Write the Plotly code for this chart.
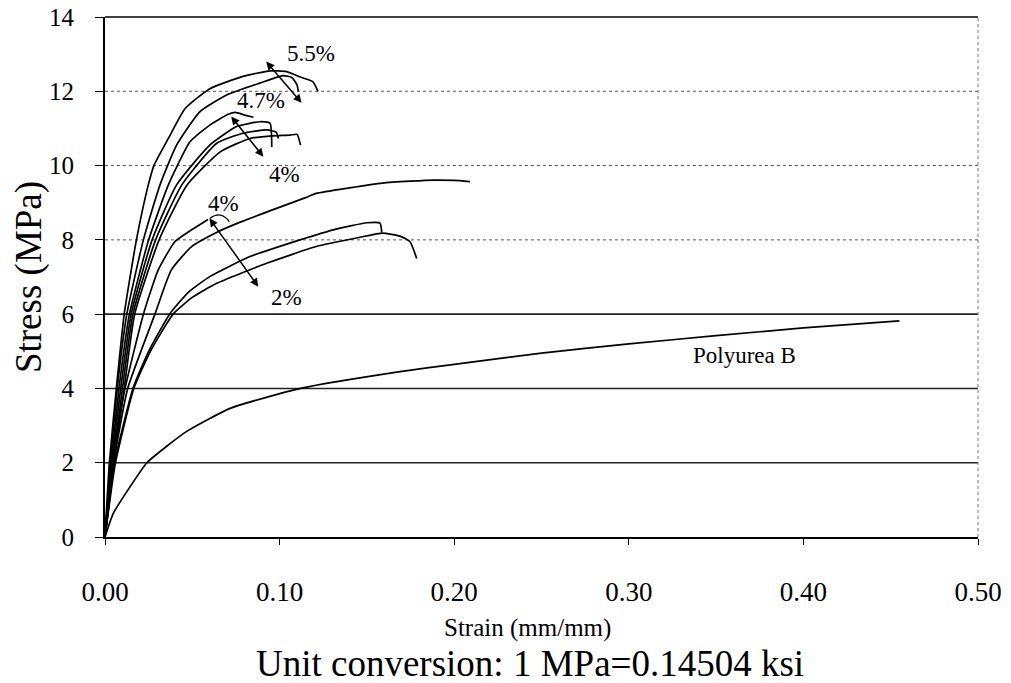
import plotly.graph_objects as go

# ---- data (strain mm/mm, stress MPa) ----
A_x = [0, 0.0025, 0.0065, 0.011, 0.018, 0.0248, 0.028, 0.0363, 0.0458, 0.060, 0.079, 0.0945, 0.104, 0.1126, 0.119, 0.122]
A_y = [0, 2, 4, 6, 8, 9.48, 10, 10.73, 11.53, 12.07, 12.4, 12.55, 12.53, 12.37, 12.26, 12.0]

B_x = [0, 0.003, 0.007, 0.0125, 0.022, 0.0315, 0.041, 0.0544, 0.0697, 0.0888, 0.102, 0.107, 0.110, 0.1107]
B_y = [0, 2, 4, 6, 8, 9.48, 10.55, 11.45, 11.9, 12.22, 12.42, 12.37, 12.17, 12.0]

C_x = [0, 0.0035, 0.008, 0.014, 0.025, 0.0363, 0.0487, 0.060, 0.0706, 0.0745, 0.080, 0.085]
C_y = [0, 2, 4, 6, 8, 9.48, 10.64, 11.09, 11.38, 11.43, 11.36, 11.3]

D_x = [0, 0.004, 0.009, 0.015, 0.027, 0.041, 0.060, 0.0754, 0.0888, 0.0945, 0.0955]
D_y = [0, 2, 4, 6, 8, 9.48, 10.55, 11.05, 11.18, 11.14, 10.5]

E_x = [0, 0.0045, 0.010, 0.016, 0.029, 0.044, 0.064, 0.079, 0.0926, 0.098, 0.0993]
E_y = [0, 2, 4, 6, 8, 9.48, 10.6, 10.87, 10.96, 10.9, 10.73]

F_x = [0, 0.005, 0.011, 0.017, 0.031, 0.047, 0.066, 0.083, 0.096, 0.106, 0.110, 0.112]
F_y = [0, 2, 4, 6, 8, 9.48, 10.37, 10.73, 10.8, 10.82, 10.84, 10.55]

G_x = [0, 0.004, 0.0115, 0.022, 0.0305, 0.040, 0.0496, 0.059]
G_y = [0, 2, 4, 6, 7.19, 7.95, 8.27, 8.55]

H_x = [0, 0.005, 0.013, 0.0286, 0.038, 0.0496, 0.063, 0.076, 0.0955, 0.1145, 0.121, 0.14, 0.159, 0.175, 0.188, 0.2, 0.209]
H_y = [0, 2, 4, 6, 7.19, 7.82, 8.18, 8.45, 8.8, 9.13, 9.25, 9.4, 9.53, 9.58, 9.61, 9.6, 9.57]

I_x = [0, 0.0055, 0.016, 0.025, 0.037, 0.048, 0.060, 0.083, 0.1117, 0.1307, 0.150, 0.1575, 0.1585]
I_y = [0, 2, 4, 5, 6, 6.6, 7.01, 7.55, 8.0, 8.27, 8.46, 8.45, 8.2]

J_x = [0, 0.006, 0.0165, 0.026, 0.039, 0.050, 0.064, 0.0926, 0.121, 0.146, 0.159, 0.169, 0.1747, 0.1785]
J_y = [0, 2, 4, 5, 6, 6.45, 6.83, 7.37, 7.82, 8.07, 8.18, 8.1, 7.95, 7.5]

P_x = [0, 0.0048, 0.0143, 0.024, 0.035, 0.047, 0.072, 0.112, 0.169, 0.2, 0.25, 0.3, 0.35, 0.4, 0.455]
P_y = [0, 0.64, 1.35, 2.0, 2.43, 2.85, 3.47, 4.0, 4.45, 4.65, 4.95, 5.2, 5.42, 5.63, 5.82]

curves = [(A_x, A_y), (B_x, B_y), (C_x, C_y), (D_x, D_y), (E_x, E_y), (F_x, F_y),
          (G_x, G_y), (H_x, H_y), (I_x, I_y), (J_x, J_y), (P_x, P_y)]

x_ticks = [0, 0.1, 0.2, 0.3, 0.4, 0.5]
x_labels = ["0.00", "0.10", "0.20", "0.30", "0.40", "0.50"]
y_ticks = [0, 2, 4, 6, 8, 10, 12, 14]
grid_solid = [2, 4, 6]
grid_dot = [8, 10, 12]

FONT = "Liberation Serif, Times New Roman, serif"

fig = go.Figure()
for cx, cy in curves:
    fig.add_trace(go.Scatter(x=cx, y=cy, mode="lines",
                             line=dict(color="black", width=1.7, shape="spline", smoothing=0.5),
                             showlegend=False, hoverinfo="skip"))

shapes = []
for g in grid_solid:
    shapes.append(dict(type="line", xref="paper", x0=0, x1=1, yref="y", y0=g, y1=g,
                       line=dict(color="#222", width=1.6), layer="below"))
for g in grid_dot:
    shapes.append(dict(type="line", xref="paper", x0=0, x1=1, yref="y", y0=g, y1=g,
                       line=dict(color="#555", width=1, dash="dot"), layer="below"))
# top border (solid) and right border (dotted grey)
shapes.append(dict(type="line", xref="paper", yref="paper", x0=0, x1=1, y0=1, y1=1,
                   line=dict(color="black", width=1.5)))
shapes.append(dict(type="line", xref="paper", yref="paper", x0=1, x1=1, y0=0, y1=1,
                   line=dict(color="#777", width=1, dash="dot")))
# small arc near the middle 4% label
shapes.append(dict(type="path", xref="x", yref="y",
                   path="M 0.0601,8.58 Q 0.0665,8.8 0.0712,8.49",
                   line=dict(color="black", width=1.3)))

annotations = []
def label(text, x, y, size=23):
    annotations.append(dict(text=text, x=x, y=y, xref="x", yref="y", showarrow=False,
                            font=dict(family=FONT, size=size, color="black")))

def darrow(x0, y0, x1, y1):
    annotations.append(dict(x=x1, y=y1, ax=x0, ay=y0, xref="x", yref="y", axref="x", ayref="y",
                            text="", showarrow=True, arrowhead=2, startarrowhead=2,
                            arrowside="end+start", arrowsize=1.1, startarrowsize=1.1,
                            arrowwidth=1.5, arrowcolor="black"))

label("5.5%", 0.118, 13.03)
label("4.7%", 0.0895, 11.74)
label("4%", 0.103, 9.77)
label("4%", 0.0676, 8.99)
label("2%", 0.1037, 6.46)
label("Polyurea B", 0.366, 4.9)
darrow(0.0916, 12.84, 0.1126, 11.69)
darrow(0.0716, 11.36, 0.0907, 10.24)
darrow(0.0592, 8.62, 0.0878, 6.74)

annotations.append(dict(text="Strain (mm/mm)", xref="paper", yref="paper", x=0.4845, y=0,
                        yanchor="middle", yshift=-91, showarrow=False,
                        font=dict(family=FONT, size=25, color="black")))
annotations.append(dict(text="Unit conversion: 1 MPa=0.14504 ksi", xref="paper", yref="paper",
                        x=0.487, y=0, yanchor="middle", yshift=-126, showarrow=False,
                        font=dict(family=FONT, size=37, color="black")))

# the page adds an 8 px body margin, so the margins are reduced by 8 px on left/top
fig.update_layout(
    width=1011, height=683, autosize=False,
    margin=dict(l=97, r=41, t=9, b=154),
    paper_bgcolor="white", plot_bgcolor="white",
    font=dict(family=FONT, color="black"),
    shapes=shapes, annotations=annotations,
    xaxis=dict(range=[0, 0.5], tickvals=x_ticks, ticktext=x_labels, showgrid=False,
               zeroline=False, showline=True, linecolor="black", linewidth=1.8,
               ticks="outside", ticklen=6, tickcolor="black", tickwidth=1,
               tickfont=dict(family=FONT, size=27), ticklabelstandoff=24, automargin=False,
               ticklabeloverflow="allow"),
    yaxis=dict(range=[0, 14], tickvals=y_ticks, showgrid=False, zeroline=False,
               showline=True, linecolor="black", linewidth=1.8,
               ticks="outside", ticklen=8, tickcolor="black", tickwidth=1,
               tickfont=dict(family=FONT, size=25), ticklabelstandoff=16, automargin=False,
               ticklabeloverflow="allow",
               title=dict(text="Stress (MPa)", font=dict(family=FONT, size=37), standoff=6)),
)

fig.write_html("out.html")
